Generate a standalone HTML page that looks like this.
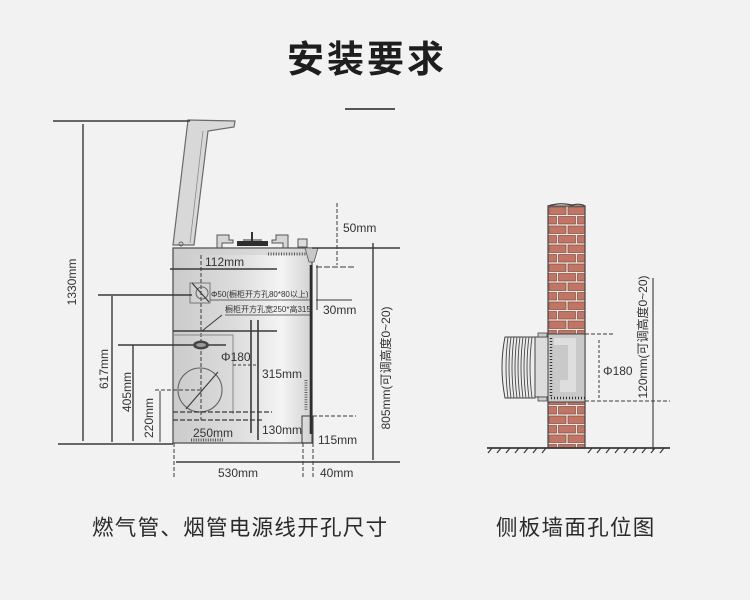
<!DOCTYPE html>
<html><head><meta charset="utf-8"><style>
html,body{margin:0;padding:0;background:#f2f2f2;}
svg{display:block;}
text{font-family:"Liberation Sans","Noto Sans CJK SC",sans-serif;fill:#333;}
</style></head><body>
<svg width="750" height="600" viewBox="0 0 750 600" xmlns="http://www.w3.org/2000/svg">
<defs>
<linearGradient id="cab" x1="0" y1="0" x2="1" y2="0">
<stop offset="0" stop-color="#cbcbcb"/><stop offset="0.45" stop-color="#dcdcdc"/><stop offset="0.78" stop-color="#f4f4f4"/><stop offset="1" stop-color="#d2d2d2"/>
</linearGradient>
<pattern id="brick" patternUnits="userSpaceOnUse" x="548" y="206" width="19" height="19">
<rect width="19" height="19" fill="#efe3dd"/>
<rect x="1" y="1" width="17" height="7.5" fill="#c27564" stroke="#6e3f35" stroke-width="0.6"/>
<rect x="-8.5" y="10.5" width="17" height="7.5" fill="#c27564" stroke="#6e3f35" stroke-width="0.6"/>
<rect x="10.5" y="10.5" width="17" height="7.5" fill="#c27564" stroke="#6e3f35" stroke-width="0.6"/>
</pattern>
</defs>

<!-- Title -->
<text x="367" y="72" font-size="37" font-weight="bold" text-anchor="middle" letter-spacing="3" style="fill:#1e1e1e">安装要求</text>
<line x1="345" y1="109" x2="395" y2="109" stroke="#222" stroke-width="1.5"/>

<!-- ===== Left diagram ===== -->
<!-- hood post -->
<path d="M188 120 L235 121 L234 127 L208 131 L194 245 L173 245 Z" fill="#d8d8d8" stroke="#6a6a6a" stroke-width="1.2"/>
<path d="M203 131 L190 243" stroke="#8a8a8a" stroke-width="0.8" fill="none"/>
<circle cx="181" cy="244" r="2" fill="none" stroke="#666"/>
<!-- burners -->
<path d="M217 248 V235 H229 V240 H233 V243 H222 V248" fill="#d6d6d6" stroke="#555" stroke-width="1"/>
<path d="M288 248 V235 H276 V240 H272 V243 H283 V248" fill="#d6d6d6" stroke="#555" stroke-width="1"/>
<rect x="237" y="241" width="31" height="5" fill="#2e2e2e"/>
<line x1="252" y1="232" x2="252" y2="241" stroke="#333" stroke-width="2"/>
<line x1="243" y1="240" x2="262" y2="240" stroke="#333" stroke-width="1"/>
<rect x="298" y="239" width="9" height="8" fill="#ddd" stroke="#555"/>

<!-- cabinet -->
<rect x="173" y="248" width="139" height="195" fill="url(#cab)" stroke="#555" stroke-width="1.3"/>
<rect x="174" y="249" width="137" height="6" fill="#cfcfcf" opacity="0.6"/>
<path d="M305 248 L318 248 L314 262 L309 262 Z" fill="#c8c8c8" stroke="#555" stroke-width="0.8"/>
<line x1="311" y1="265" x2="311" y2="434" stroke="#2e2e2e" stroke-width="2.6"/>
<path d="M268 254 h38" stroke="#555" stroke-width="3" stroke-dasharray="1 1.6"/>
<path d="M306 380 v30" stroke="#666" stroke-width="3" stroke-dasharray="1 1.4"/>
<path d="M191 440 h32" stroke="#555" stroke-width="3" stroke-dasharray="1 1.4"/>

<!-- inner details -->
<g stroke="#3a3a3a" fill="none">
<line x1="170" y1="269" x2="277" y2="269" stroke-width="1.5"/>
<line x1="201" y1="255" x2="201" y2="420" stroke-width="1" stroke-dasharray="4 2"/>
<rect x="190" y="283" width="20" height="20" stroke="#777" stroke-width="1"/>
<circle cx="202" cy="293" r="6" stroke="#666" stroke-width="1"/>
<line x1="192" y1="283" x2="209" y2="302" stroke-width="1.2"/>
<line x1="210" y1="300" x2="310" y2="300" stroke-width="0.8"/>
<line x1="225" y1="315" x2="310" y2="315" stroke-width="0.8"/>
<line x1="202" y1="331" x2="222" y2="315" stroke-width="1"/>
<line x1="173" y1="331" x2="277" y2="331" stroke-width="1.5"/>
<path d="M173 335 H233 V414" stroke="#888" stroke-width="1"/>
<line x1="251" y1="320" x2="251" y2="433" stroke-width="1.6"/>
<line x1="258" y1="320" x2="258" y2="440" stroke-width="1.6"/>
<line x1="233" y1="365" x2="256" y2="365" stroke-width="1" stroke-dasharray="3 2"/>
<circle cx="200" cy="390" r="22" stroke="#666" stroke-width="1.1"/>
<line x1="186" y1="409" x2="218" y2="372" stroke-width="1.1"/>
<line x1="173" y1="412" x2="272" y2="412" stroke-width="1.2" stroke-dasharray="5 2"/>
<line x1="173" y1="420" x2="262" y2="420" stroke-width="1.2" stroke-dasharray="5 2"/>
</g>
<ellipse cx="201" cy="345" rx="8" ry="4.5" fill="#444"/>
<ellipse cx="201" cy="345" rx="5" ry="2" fill="#999"/>

<!-- outer dimension lines -->
<g stroke="#3a3a3a" stroke-width="1.4" fill="none">
<line x1="53" y1="121" x2="190" y2="121"/>
<line x1="83" y1="124" x2="83" y2="441"/>
<line x1="58" y1="444" x2="173" y2="444"/>
<line x1="112" y1="296" x2="112" y2="442"/>
<line x1="98" y1="295" x2="192" y2="295"/>
<line x1="133" y1="345" x2="133" y2="441"/>
<line x1="118" y1="345" x2="193" y2="345"/>
<line x1="209" y1="345" x2="226" y2="345"/>
<line x1="160" y1="391" x2="160" y2="442" stroke-width="1"/>
<line x1="155" y1="390" x2="200" y2="390" stroke-width="1" stroke-dasharray="4 2"/>
<line x1="174" y1="443" x2="174" y2="478" stroke-width="1" stroke-dasharray="4 2"/>
<line x1="176" y1="462" x2="400" y2="462"/>
<rect x="302" y="416" width="11" height="27" stroke-width="1"/>
<line x1="313" y1="416" x2="356" y2="416" stroke-width="1" stroke-dasharray="4 2"/>
<line x1="303" y1="443" x2="303" y2="478" stroke-width="1" stroke-dasharray="4 2"/>
<line x1="313" y1="443" x2="313" y2="478" stroke-width="1" stroke-dasharray="4 2"/>
<line x1="337" y1="203" x2="337" y2="265" stroke-width="1" stroke-dasharray="4 2"/>
<line x1="312" y1="248" x2="400" y2="248"/>
<line x1="316" y1="267" x2="355" y2="267" stroke-width="1.1" stroke-dasharray="6 2"/>
<line x1="317" y1="265" x2="317" y2="310" stroke-width="1"/>
<line x1="316" y1="300" x2="352" y2="300" stroke-width="1.1"/>
<line x1="373" y1="243" x2="373" y2="460"/>
</g>

<!-- labels left -->
<g font-size="12">
<text transform="translate(76,282) rotate(-90)" text-anchor="middle">1330mm</text>
<text transform="translate(108,369) rotate(-90)" text-anchor="middle">617mm</text>
<text transform="translate(131,392) rotate(-90)" text-anchor="middle">405mm</text>
<text transform="translate(153,418) rotate(-90)" text-anchor="middle">220mm</text>
<text x="205" y="266">112mm</text>
<text x="221" y="361">Φ180</text>
<text x="262" y="378">315mm</text>
<text x="193" y="437">250mm</text>
<text x="262" y="434">130mm</text>
<text x="218" y="477">530mm</text>
<text x="320" y="477">40mm</text>
<text x="318" y="444">115mm</text>
<text x="343" y="232">50mm</text>
<text x="323" y="314">30mm</text>
<text transform="translate(390,368) rotate(-90)" text-anchor="middle">805mm(可调高度0~20)</text>
</g>
<text x="211" y="297" font-size="8">Φ50(橱柜开方孔80*80以上)</text>
<text x="225" y="312" font-size="8">橱柜开方孔宽250*高315</text>

<!-- ===== Right diagram ===== -->
<rect x="548" y="206" width="37" height="242" fill="url(#brick)" stroke="#444" stroke-width="1.2"/>
<path d="M548 206 Q560 202 572 205 Q580 203 585 206" fill="none" stroke="#444" stroke-width="1.2"/>
<!-- hole -->
<rect x="548" y="334" width="37" height="68" fill="#c9c9c9" stroke="#444" stroke-width="1"/>
<path d="M554 338 H576 V392 H560 V380 H568 V345 H554 Z" fill="#dedede"/>
<path d="M551 338 V398 H585" fill="none" stroke="#333" stroke-width="2.5" stroke-dasharray="1 2"/>
<!-- flange -->
<rect x="535" y="337" width="13" height="60" fill="#dcdcdc" stroke="#444" stroke-width="1"/>
<rect x="538" y="333" width="9" height="4" fill="#ccc" stroke="#444" stroke-width="0.8"/>
<rect x="538" y="397" width="9" height="4" fill="#ccc" stroke="#444" stroke-width="0.8"/>
<!-- corrugated pipe -->
<path d="M535 337 H505 Q499 367 505 398 H535 Z" fill="#ececec" stroke="#444" stroke-width="1"/>
<g stroke="#444" stroke-width="0.9" fill="none">
<path d="M508 337 Q504 367 508 398"/>
<path d="M511 337 Q507 367 511 398"/>
<path d="M514 337 Q510 367 514 398"/>
<path d="M517 337 Q513 367 517 398"/>
<path d="M520 337 Q516 367 520 398"/>
<path d="M523 337 Q519 367 523 398"/>
<path d="M526 337 Q522 367 526 398"/>
<path d="M529 337 Q525 367 529 398"/>
<path d="M532 337 Q528 367 532 398"/>
</g>
<!-- dims right -->
<g stroke="#3a3a3a" fill="none" stroke-width="1">
<line x1="585" y1="334" x2="613" y2="334" stroke-dasharray="4 2"/>
<line x1="585" y1="401" x2="670" y2="401" stroke-dasharray="4 2"/>
<line x1="599" y1="340" x2="599" y2="400" stroke-dasharray="3 2"/>
<line x1="653" y1="278" x2="653" y2="450" stroke-width="1.1"/>
<line x1="487" y1="448" x2="670" y2="448" stroke-width="1.8"/>
<path d="M492 448 l-4 5 M501 448 l-4 5 M510 448 l-4 5 M519 448 l-4 5 M528 448 l-4 5 M537 448 l-4 5 M546 448 l-4 5 M592 448 l-4 5 M601 448 l-4 5 M610 448 l-4 5 M619 448 l-4 5 M628 448 l-4 5 M637 448 l-4 5 M646 448 l-4 5 M655 448 l-4 5 M664 448 l-4 5" stroke-width="1.2"/>
</g>
<text x="603" y="375" font-size="12">Φ180</text>
<text transform="translate(647,337) rotate(-90)" text-anchor="middle" font-size="12">120mm(可调高度0~20)</text>

<!-- captions -->
<text x="92" y="535" font-size="21.5" letter-spacing="1.3" style="fill:#2a2a2a">燃气管、烟管电源线开孔尺寸</text>
<text x="496" y="535" font-size="21.5" letter-spacing="1.3" style="fill:#2a2a2a">侧板墙面孔位图</text>
</svg>
</body></html>
